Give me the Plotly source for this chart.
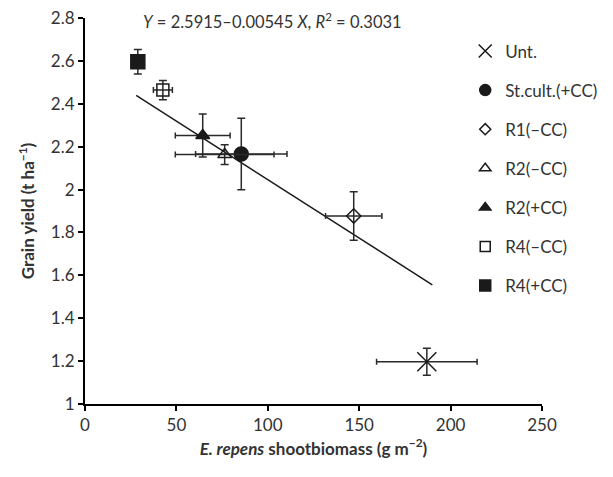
import plotly.graph_objects as go

# ---- data ----
names = ["Unt.", "St.cult.(+CC)", "R1(–CC)", "R2(–CC)", "R2(+CC)", "R4(–CC)", "R4(+CC)"]
biomass = [187, 85.5, 147, 76.4, 64.4, 42.6, 28.9]
biomass_err = [27.5, 25, 15.4, 27, 15, 5.2, 2.5]
yield_ = [1.197, 2.166, 1.877, 2.163, 2.252, 2.464, 2.596]
yield_err = [0.063, 0.167, 0.113, 0.046, 0.10, 0.045, 0.057]

fit_intercept = 2.5915
fit_slope = -0.00545
fit_x = [28, 190]
fit_y = [fit_intercept + fit_slope * v for v in fit_x]

x_ticks = [0, 50, 100, 150, 200, 250]
y_ticks = [1, 1.2, 1.4, 1.6, 1.8, 2, 2.2, 2.4, 2.6, 2.8]

# ---- styles ----
DARK = "#1a1a1a"
TXT = "#333333"
symbols = ["x-thin", "circle", "diamond-open", "triangle-up-open", "triangle-up", "square-open", "square"]
plot_sizes = [19, 14, 11, 12, 12, 12, 14]
legend_sizes = [13, 11, 8.5, 10, 10, 10, 11]

fig = go.Figure()

fig.add_trace(go.Scatter(
    x=fit_x, y=fit_y, mode="lines",
    line=dict(color=DARK, width=1.5), showlegend=False, hoverinfo="skip"))

for i, n in enumerate(names):
    fig.add_trace(go.Scatter(
        x=[biomass[i]], y=[yield_[i]], mode="markers", name=n, showlegend=False,
        marker=dict(symbol=symbols[i], size=plot_sizes[i], color=DARK,
                    line=dict(color=DARK, width=1.5)),
        error_x=dict(type="data", array=[biomass_err[i]], color="#2a2a2a", thickness=1.5, width=3),
        error_y=dict(type="data", array=[yield_err[i]], color="#2a2a2a", thickness=1.5, width=4),
    ))

for i, n in enumerate(names):
    fig.add_trace(go.Scatter(
        x=[None], y=[None], mode="markers", name=n, legendgroup=n,
        marker=dict(symbol=symbols[i], size=legend_sizes[i], color=DARK,
                    line=dict(color=DARK, width=1.5)),
    ))

font_family = "Lato, 'Open Sans', Arial, sans-serif"

fig.update_layout(
    width=605, height=469,
    margin=dict(l=77, r=57, t=10, b=73),
    paper_bgcolor="white", plot_bgcolor="white",
    font=dict(family=font_family, size=17, color=TXT),
    showlegend=True,
    legend=dict(x=0.832, y=0.96, xanchor="left", yanchor="top",
                font=dict(size=17, color=TXT),
                tracegroupgap=14, itemsizing="trace",
                bgcolor="rgba(0,0,0,0)"),
    xaxis=dict(range=[0, 250], tickvals=x_ticks, showgrid=False, zeroline=False,
               automargin=False, ticklabeloverflow="allow",
               showline=True, linecolor="black", linewidth=2,
               ticks="outside", ticklen=5, tickcolor="black", tickwidth=1.5,
               tickfont=dict(size=17, color=TXT),
               title=dict(text="<b><i>E. repens</i> shootbiomass (g m<sup>−2</sup>)</b>",
                          font=dict(size=17, color=TXT), standoff=2)),
    yaxis=dict(range=[1, 2.8], tickvals=y_ticks, showgrid=False, zeroline=False,
               automargin=False, ticklabeloverflow="allow",
               showline=True, linecolor="black", linewidth=2,
               ticks="outside", ticklen=5, tickcolor="black", tickwidth=1.5,
               tickfont=dict(size=17, color=TXT),
               title=dict(text="<b>Grain yield (t ha<sup>−1</sup>)</b>",
                          font=dict(size=17, color=TXT), standoff=12)),
    annotations=[dict(
        text="<i>Y</i> = 2.5915–0.00545 <i>X</i>, <i>R</i><sup>2</sup> = 0.3031",
        xref="paper", yref="paper", x=0.41, y=1.0, xanchor="center", yanchor="top",
        yshift=10, showarrow=False, font=dict(size=16.5, color=TXT))],
)

fig.write_html("out.html")
